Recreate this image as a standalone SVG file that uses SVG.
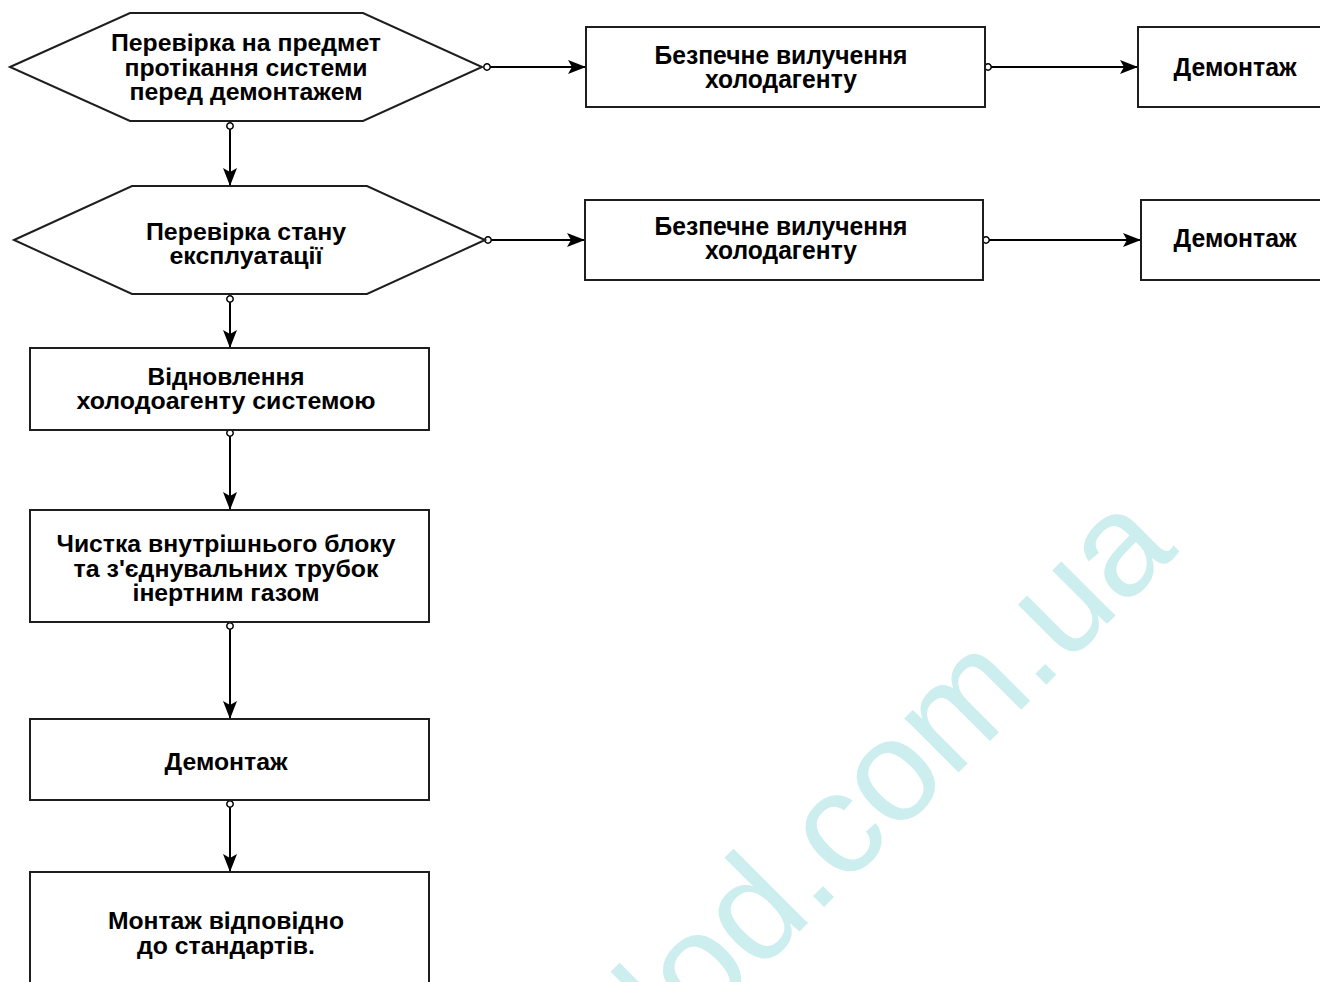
<svg xmlns="http://www.w3.org/2000/svg" width="1320" height="982" viewBox="0 0 1320 982">
  <defs>
    <style>
      .node { fill: #ffffff; stroke: #1e1e1e; stroke-width: 2; }
      .lbl { font-family: "Liberation Sans", Arial, sans-serif; font-weight: bold; font-size: 24px; fill: #000; text-anchor: middle; }
      .lblr { font-family: "Liberation Sans", Arial, sans-serif; font-weight: bold; font-size: 26px; fill: #000; text-anchor: middle; }
      .conn { fill: none; stroke: #000; stroke-width: 2; marker-start: url(#dot); marker-end: url(#arrow); }
      .wm { font-family: "Liberation Sans", Arial, sans-serif; font-size: 145px; fill: #cdeeee; }
    </style>
    <marker id="arrow" viewBox="0 0 18 14" refX="18" refY="7" markerWidth="18" markerHeight="14" markerUnits="userSpaceOnUse" orient="auto">
      <path d="M0,0 L18,7 L0,14 L4,7 Z" fill="#000"/>
    </marker>
    <marker id="dot" viewBox="-4.5 -4.5 9 9" refX="0" refY="0" markerWidth="9" markerHeight="9" markerUnits="userSpaceOnUse" orient="auto">
      <circle cx="0" cy="0" r="3.2" fill="#fff" stroke="#000" stroke-width="1.5"/>
    </marker>
  </defs>
  <rect x="0" y="0" width="1320" height="982" fill="#ffffff"/>

  <g id="watermark">
    <text class="wm" transform="translate(678,1053) rotate(-45)">lod.com.ua</text>
  </g>

  <g id="connectors">
    <line class="conn" x1="487" y1="67" x2="586" y2="67"/>
    <line class="conn" x1="988" y1="67" x2="1138" y2="67"/>
    <line class="conn" x1="230" y1="126" x2="230" y2="186"/>
    <line class="conn" x1="488" y1="240" x2="585" y2="240"/>
    <line class="conn" x1="986" y1="240" x2="1141" y2="240"/>
    <line class="conn" x1="230" y1="299" x2="230" y2="348"/>
    <line class="conn" x1="230" y1="433" x2="230" y2="510"/>
    <line class="conn" x1="230" y1="626" x2="230" y2="719"/>
    <line class="conn" x1="230" y1="804" x2="230" y2="872"/>
  </g>

  <g id="check-leak">
    <polygon class="node" points="10,67 130,13 363,13 482,67 363,121 130,121"/>
    <text class="lbl" x="246" y="51" textLength="270" lengthAdjust="spacingAndGlyphs">Перевірка на предмет</text>
    <text class="lbl" x="246" y="76" textLength="243" lengthAdjust="spacingAndGlyphs">протікання системи</text>
    <text class="lbl" x="246" y="100" textLength="233" lengthAdjust="spacingAndGlyphs">перед демонтажем</text>
  </g>

  <g id="recover-1">
    <rect class="node" x="586" y="27" width="399" height="80"/>
    <text class="lblr" x="781" y="64" textLength="253" lengthAdjust="spacingAndGlyphs">Безпечне вилучення</text>
    <text class="lblr" x="781" y="88" textLength="152" lengthAdjust="spacingAndGlyphs">холодагенту</text>
  </g>

  <g id="dismantle-1">
    <rect class="node" x="1138" y="27" width="200" height="80"/>
    <text class="lblr" x="1235" y="76" textLength="123" lengthAdjust="spacingAndGlyphs">Демонтаж</text>
  </g>

  <g id="check-operation">
    <polygon class="node" points="14,240 132,186 367,186 485,240 367,294 132,294"/>
    <text class="lbl" x="246" y="240" textLength="200" lengthAdjust="spacingAndGlyphs">Перевірка стану</text>
    <text class="lbl" x="246" y="264" textLength="153" lengthAdjust="spacingAndGlyphs">експлуатації</text>
  </g>

  <g id="recover-2">
    <rect class="node" x="585" y="200" width="398" height="80"/>
    <text class="lblr" x="781" y="235" textLength="253" lengthAdjust="spacingAndGlyphs">Безпечне вилучення</text>
    <text class="lblr" x="781" y="259" textLength="152" lengthAdjust="spacingAndGlyphs">холодагенту</text>
  </g>

  <g id="dismantle-2">
    <rect class="node" x="1141" y="200" width="200" height="80"/>
    <text class="lblr" x="1235" y="247" textLength="123" lengthAdjust="spacingAndGlyphs">Демонтаж</text>
  </g>

  <g id="system-recovery">
    <rect class="node" x="30" y="348" width="399" height="82"/>
    <text class="lbl" x="226" y="385" textLength="157" lengthAdjust="spacingAndGlyphs">Відновлення</text>
    <text class="lbl" x="226" y="409" textLength="299" lengthAdjust="spacingAndGlyphs">холодоагенту системою</text>
  </g>

  <g id="purge">
    <rect class="node" x="30" y="510" width="399" height="112"/>
    <text class="lbl" x="226" y="552" textLength="339" lengthAdjust="spacingAndGlyphs">Чистка внутрішнього блоку</text>
    <text class="lbl" x="226" y="577" textLength="305" lengthAdjust="spacingAndGlyphs">та з'єднувальних трубок</text>
    <text class="lbl" x="226" y="601" textLength="187" lengthAdjust="spacingAndGlyphs">інертним газом</text>
  </g>

  <g id="dismantle-3">
    <rect class="node" x="30" y="719" width="399" height="81"/>
    <text class="lbl" x="226" y="770" textLength="123" lengthAdjust="spacingAndGlyphs">Демонтаж</text>
  </g>

  <g id="install">
    <rect class="node" x="30" y="872" width="399" height="130"/>
    <text class="lbl" x="226" y="929" textLength="236" lengthAdjust="spacingAndGlyphs">Монтаж відповідно</text>
    <text class="lbl" x="226" y="954" textLength="178" lengthAdjust="spacingAndGlyphs">до стандартів.</text>
  </g>
</svg>
